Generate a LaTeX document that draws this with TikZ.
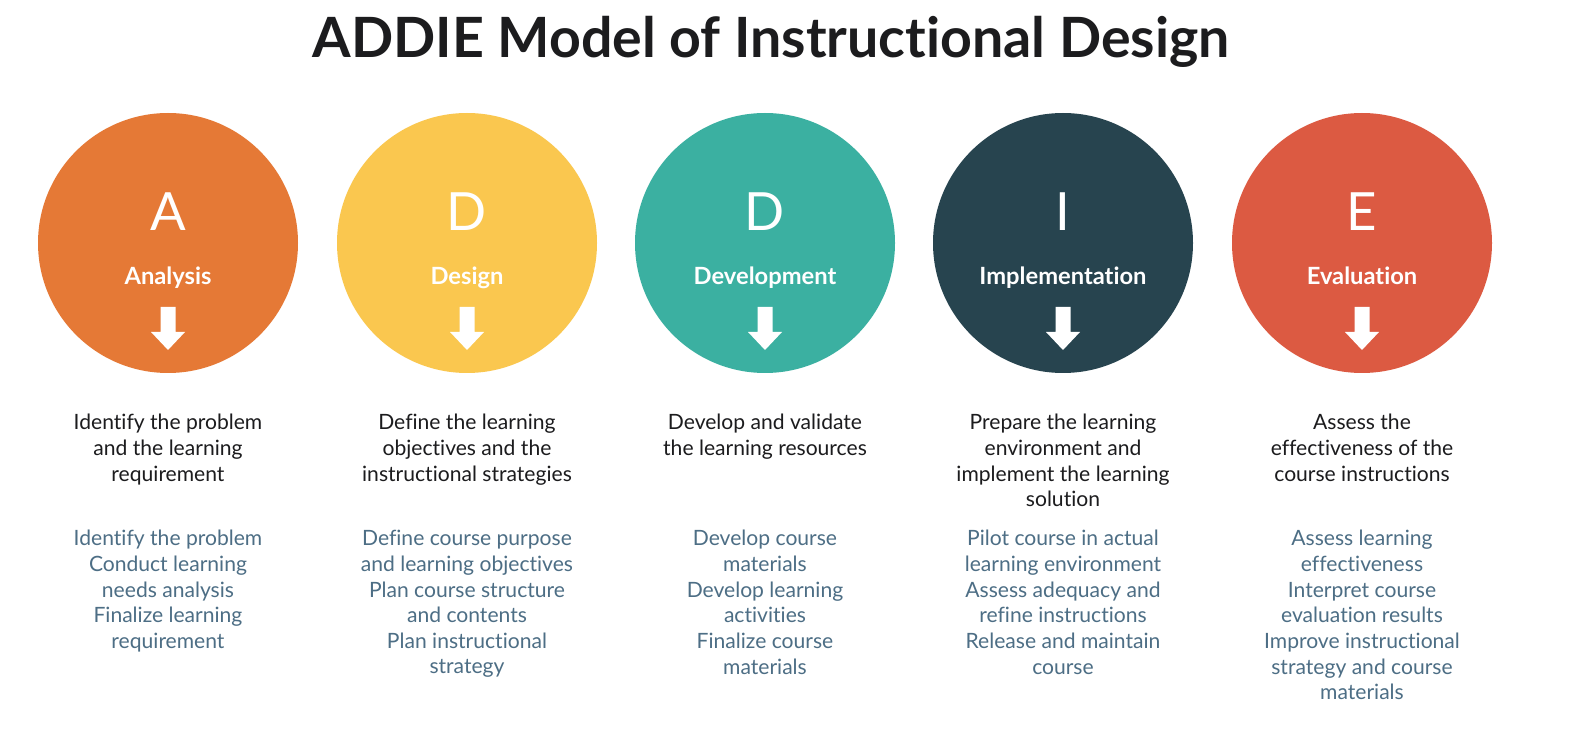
\documentclass[tikz,border=0pt]{standalone}
\usepackage{fontspec}
\setmainfont{Lato}[Ligatures=NoCommon]
\definecolor{orangeA}{HTML}{E57936}
\definecolor{yellowD}{HTML}{FAC74F}
\definecolor{tealD}{HTML}{3BB0A1}
\definecolor{darkI}{HTML}{27444F}
\definecolor{redE}{HTML}{DC5A42}
\definecolor{titlegray}{HTML}{1C1C1E}
\definecolor{stepblue}{HTML}{4D6E85}
\begin{document}
\begin{tikzpicture}[x=0.02cm, y=-0.02cm,
    phase/.style={circle, minimum size=260*0.02cm, inner sep=0pt},
    letter/.style={text=white, font=\fontsize{30}{30}\selectfont, anchor=base},
    phasename/.style={text=white, font=\fontsize{13.5}{14}\selectfont\bfseries, anchor=base},
    goal/.style={text=titlegray, align=center, anchor=north, inner sep=0pt,
                 font=\fontsize{12}{14.6}\selectfont},
    steps/.style={text=stepblue, align=center, anchor=north, inner sep=0pt,
                  font=\fontsize{12}{14.6}\selectfont}]
      \useasboundingbox (0, 0) rectangle (1570, 733);
      \fill[white] (0, 0) rectangle (1570, 733);
      \node (title) [anchor=base, text=titlegray, font=\fontsize{31.6}{32}\selectfont\bfseries]
            at (771, 58) {ADDIE Model of Instructional Design};
      % the five circles
      \node (pA) [phase, fill=orangeA] at (168, 243) {};
      \node (pD) [phase, fill=yellowD] at (467, 243) {};
      \node (pDv) [phase, fill=tealD] at (765, 243) {};
      \node (pI) [phase, fill=darkI] at (1063, 243) {};
      \node (pE) [phase, fill=redE] at (1362, 243) {};
      \foreach \p in {pA, pD, pDv, pI, pE}
        \fill[white] ([shift={(-7.5, 64)}]\p.center) -- ++(15, 0) -- ++(0, 25)
             -- ++(9.5, 0) -- ++(-17, 18) -- ++(-17, -18) -- ++(9.5, 0) -- cycle;
      \draw (168, 231) node (lA) [letter] {A}
            (467, 231) node (lD) [letter] {D}
            (765, 231) node (lDv) [letter] {D}
            (1063, 231) node (lI) [letter] {I}
            (1362, 231) node (lE) [letter] {E};
      \draw (168, 285) node (nA) [phasename] {Analysis}
            (467, 285) node (nD) [phasename] {Design}
            (765, 285) node (nDv) [phasename] {Development}
            (1063, 285) node (nI) [phasename] {Implementation}
            (1362, 285) node (nE) [phasename] {Evaluation};
      % what each phase does
      \draw (168, 414) node (gA) [goal] {Identify the problem\\and the learning\\requirement}
            (467, 414) node (gD) [goal] {Define the learning\\objectives and the\\instructional strategies}
            (765, 414) node (gDv) [goal] {Develop and validate\\the learning resources}
            (1063, 414) node (gI) [goal] {Prepare the learning\\environment and\\implement the learning\\solution}
            (1362, 414) node (gE) [goal] {Assess the\\effectiveness of the\\course instructions};
      \draw (168, 530) node (sA) [steps] {Identify the problem\\Conduct learning\\needs analysis\\Finalize learning\\requirement}
            (467, 530) node (sD) [steps] {Define course purpose\\and learning objectives\\Plan course structure\\and contents\\Plan instructional\\strategy}
            (765, 530) node (sDv) [steps] {Develop course\\materials\\Develop learning\\activities\\Finalize course\\materials}
            (1063, 530) node (sI) [steps] {Pilot course in actual\\learning environment\\Assess adequacy and\\refine instructions\\Release and maintain\\course}
            (1362, 530) node (sE) [steps] {Assess learning\\effectiveness\\Interpret course\\evaluation results\\Improve instructional\\strategy and course\\materials};
\end{tikzpicture}
\end{document}
